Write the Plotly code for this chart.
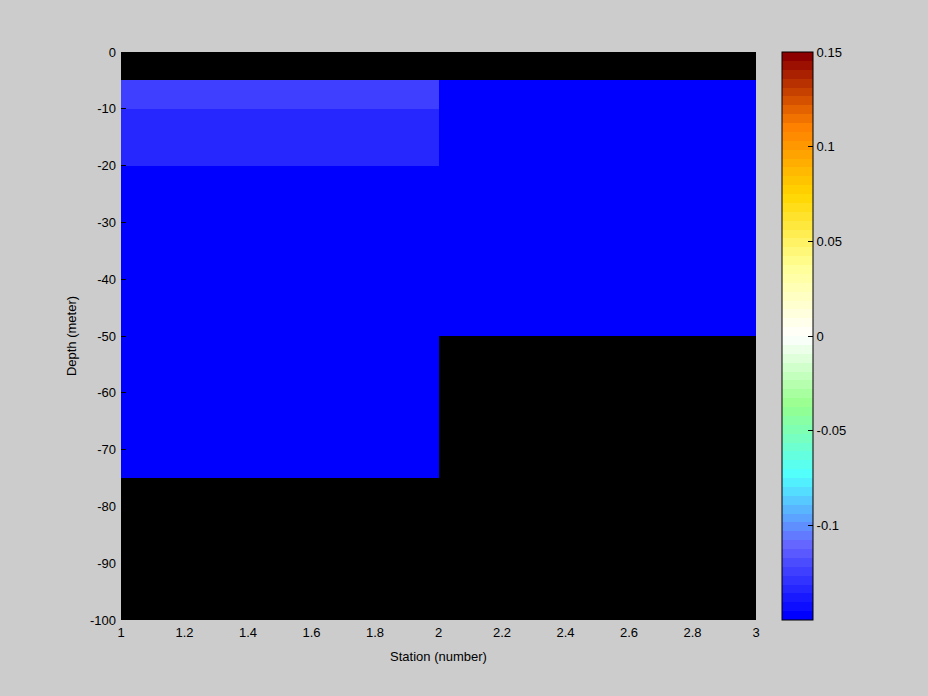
import numpy as np
import plotly.graph_objects as go

# Data
station_edges = [1, 2, 3]
depth_edges = [0, -5, -10, -20, -50, -75, -100]
nan = float("nan")
values = [
    [nan, nan],
    [-0.124, -0.148],
    [-0.134, -0.148],
    [-0.148, -0.148],
    [-0.148, nan],
    [nan, nan],
]
x_ticks = [1, 1.2, 1.4, 1.6, 1.8, 2, 2.2, 2.4, 2.6, 2.8, 3]
x_ticklabels = ["1", "1.2", "1.4", "1.6", "1.8", "2", "2.2", "2.4", "2.6", "2.8", "3"]
y_ticks = [0, -10, -20, -30, -40, -50, -60, -70, -80, -90, -100]
y_ticklabels = ["0", "-10", "-20", "-30", "-40", "-50", "-60", "-70", "-80", "-90", "-100"]
cbar_ticks = [-0.1, -0.05, 0, 0.05, 0.1, 0.15]
cbar_ticklabels = ["-0.1", "-0.05", "0", "0.05", "0.1", "0.15"]

# Colormap (64 discrete levels)
anchors = [
    (0.0, (0, 0, 255)),
    (0.125, (100, 100, 255)),
    (0.25, (80, 255, 255)),
    (0.375, (150, 255, 140)),
    (0.5, (255, 255, 255)),
    (0.625, (255, 255, 150)),
    (0.75, (255, 215, 0)),
    (0.875, (255, 128, 0)),
    (1.0, (140, 0, 0)),
]
af = [a[0] for a in anchors]
nlev = 64
colorscale = []
for i in range(nlev):
    f = i / (nlev - 1)
    c = [int(round(np.interp(f, af, [a[1][k] for a in anchors]))) for k in range(3)]
    col = f"rgb({c[0]},{c[1]},{c[2]})"
    colorscale.append([i / nlev, col])
    colorscale.append([(i + 1) / nlev, col])

font_family = "Liberation Sans Narrow, Liberation Sans, Arial, sans-serif"

fig = go.Figure(
    go.Heatmap(
        x=station_edges,
        y=depth_edges,
        z=values,
        zmin=-0.15,
        zmax=0.15,
        colorscale=colorscale,
        hoverongaps=False,
        colorbar=dict(
            x=(782 - 121) / 635,
            xanchor="left",
            y=0.5,
            yanchor="middle",
            len=1,
            lenmode="fraction",
            thickness=31,
            thicknessmode="pixels",
            xpad=0,
            ypad=0,
            outlinewidth=1,
            outlinecolor="black",
            tickvals=cbar_ticks,
            ticktext=cbar_ticklabels,
            ticks="inside",
            ticklen=5,
            tickcolor="black",
            tickfont=dict(family=font_family, size=13, color="black"),
        ),
    )
)

fig.update_layout(
    width=928,
    height=696,
    paper_bgcolor="rgb(204,204,204)",
    plot_bgcolor="black",
    margin=dict(l=121, r=172, t=52, b=76),
    font=dict(family=font_family, size=13, color="black"),
    xaxis=dict(
        range=[1, 3],
        tickvals=x_ticks,
        ticktext=x_ticklabels,
        ticks="inside",
        ticklen=5,
        tickcolor="black",
        ticklabelstandoff=3,
        showgrid=False,
        zeroline=False,
        showline=False,
        title=dict(text="Station (number)", standoff=12, font=dict(size=13)),
    ),
    yaxis=dict(
        range=[-100, 0],
        tickvals=y_ticks,
        ticktext=y_ticklabels,
        ticks="inside",
        ticklen=5,
        tickcolor="black",
        ticklabelstandoff=4,
        showgrid=False,
        zeroline=False,
        showline=False,
        title=dict(text="Depth (meter)", standoff=10, font=dict(size=13)),
    ),
)

fig.write_html(
    "out.html",
    config={"displayModeBar": False},
    post_script="document.body.style.margin='0';document.body.style.padding='0';",
)
